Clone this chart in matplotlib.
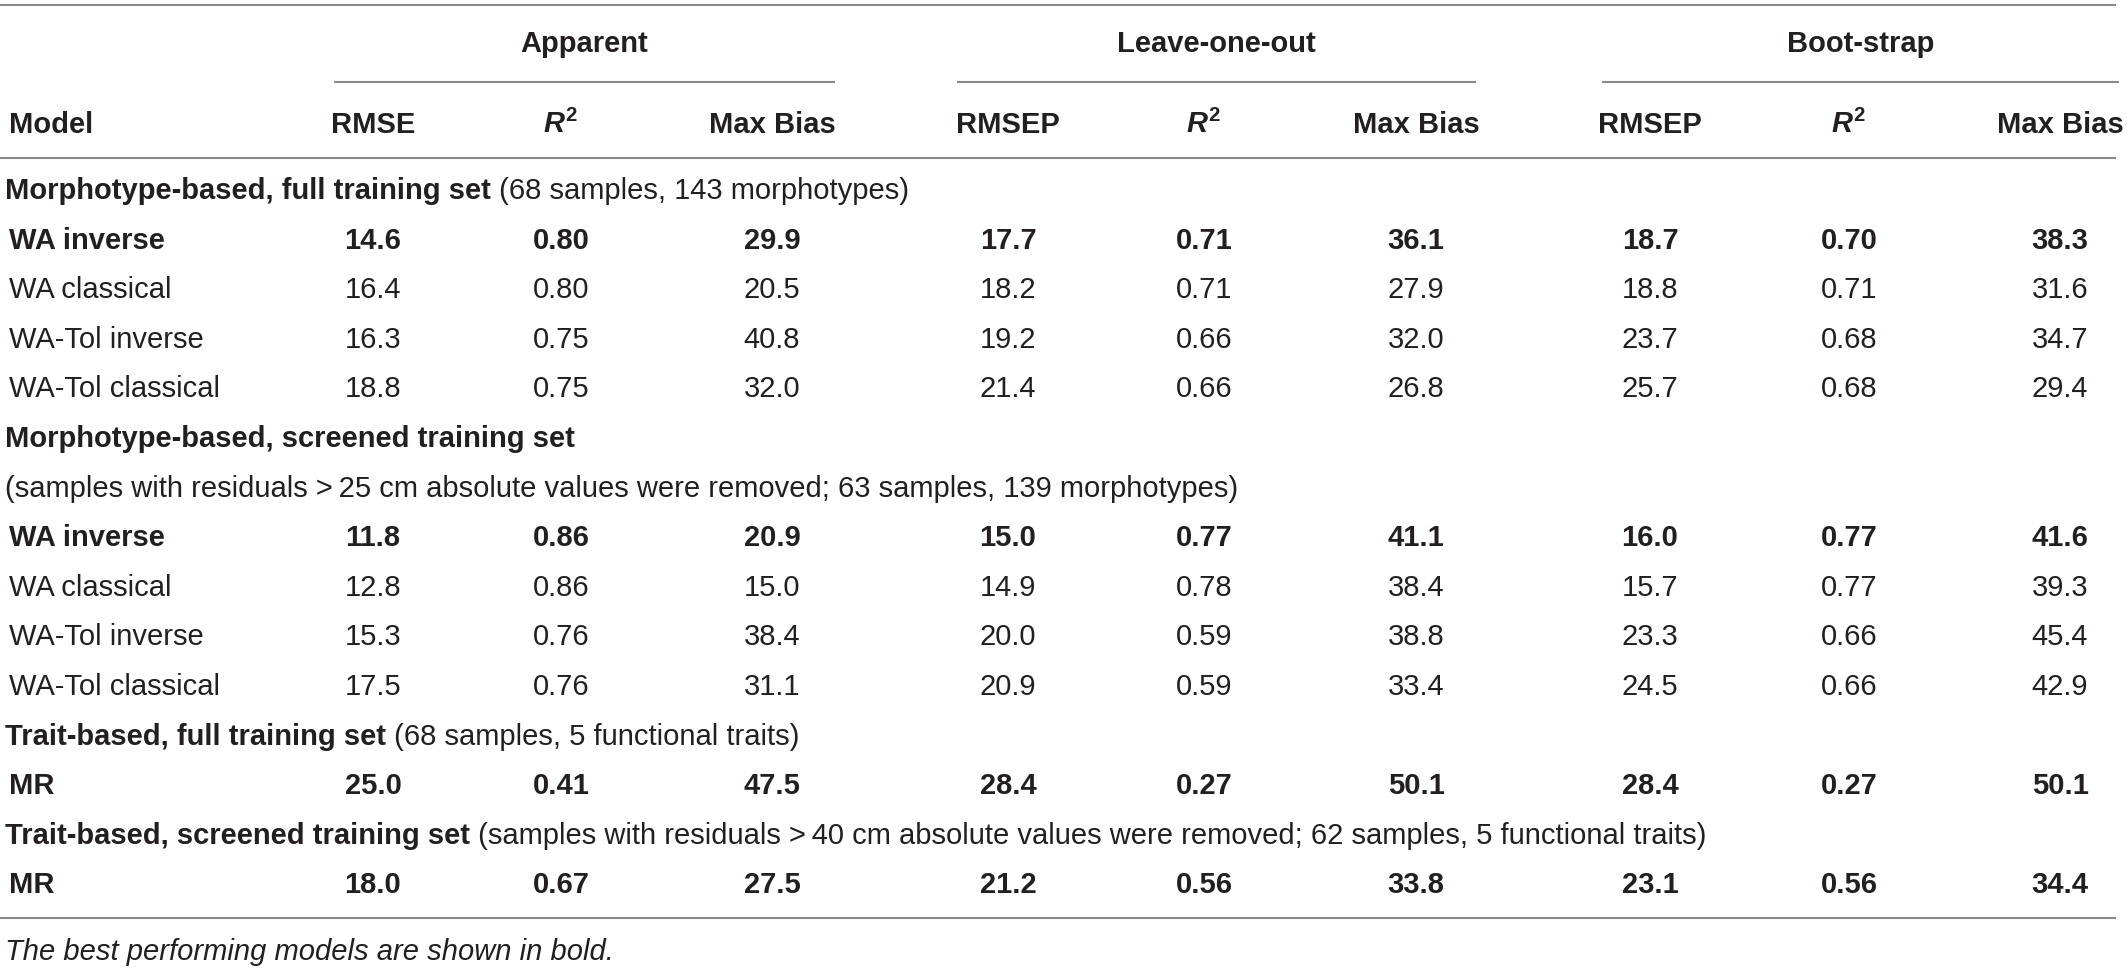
import matplotlib
matplotlib.use("Agg")
import matplotlib.pyplot as plt

plt.rcParams['font.family'] = ['Liberation Sans', 'DejaVu Sans']
plt.rcParams['mathtext.fontset'] = 'custom'
plt.rcParams['mathtext.rm'] = 'Liberation Sans:bold'
plt.rcParams['mathtext.it'] = 'Liberation Sans:italic:bold'
plt.rcParams['mathtext.bf'] = 'Liberation Sans:bold'

# table content
groups = ["Apparent", "Leave-one-out", "Boot-strap"]
metrics = ["RMSE", "$R^2$", "Max Bias",
           "RMSEP", "$R^2$", "Max Bias",
           "RMSEP", "$R^2$", "Max Bias"]

morph_models = ["WA inverse", "WA classical", "WA-Tol inverse", "WA-Tol classical"]
morph_full = [[14.6, 0.80, 29.9, 17.7, 0.71, 36.1, 18.7, 0.70, 38.3],
              [16.4, 0.80, 20.5, 18.2, 0.71, 27.9, 18.8, 0.71, 31.6],
              [16.3, 0.75, 40.8, 19.2, 0.66, 32.0, 23.7, 0.68, 34.7],
              [18.8, 0.75, 32.0, 21.4, 0.66, 26.8, 25.7, 0.68, 29.4]]
morph_screened = [[11.8, 0.86, 20.9, 15.0, 0.77, 41.1, 16.0, 0.77, 41.6],
                  [12.8, 0.86, 15.0, 14.9, 0.78, 38.4, 15.7, 0.77, 39.3],
                  [15.3, 0.76, 38.4, 20.0, 0.59, 38.8, 23.3, 0.66, 45.4],
                  [17.5, 0.76, 31.1, 20.9, 0.59, 33.4, 24.5, 0.66, 42.9]]
trait_models = ["MR"]
trait_full = [[25.0, 0.41, 47.5, 28.4, 0.27, 50.1, 28.4, 0.27, 50.1]]
trait_screened = [[18.0, 0.67, 27.5, 21.2, 0.56, 33.8, 23.1, 0.56, 34.4]]

sections = [
    ("Morphotype-based, full training set", " (68 samples, 143 morphotypes)", None,
     morph_models, morph_full),
    ("Morphotype-based, screened training set", "",
     "(samples with residuals >\u200925 cm absolute values were removed; 63 samples, 139 morphotypes)",
     morph_models, morph_screened),
    ("Trait-based, full training set", " (68 samples, 5 functional traits)", None,
     trait_models, trait_full),
    ("Trait-based, screened training set",
     " (samples with residuals >\u200940 cm absolute values were removed; 62 samples, 5 functional traits)",
     None, trait_models, trait_screened),
]
footnote = "The best performing models are shown in bold."

# layout (pixels, y = text baseline)
W, H = 2128, 968
col_x = [373, 561, 772, 1008, 1204, 1416, 1650, 1849, 2060]
span = [(334, 835), (957, 1476), (1602, 2119)]
row0, step = 199, 49.6
fs = 21
ink = "#231f20"
rule = "#8a8a8a"

fig = plt.figure(figsize=(W / 100, H / 100), dpi=100)
ax = fig.add_axes([0, 0, 1, 1])
ax.set_xlim(0, W)
ax.set_ylim(H, 0)
ax.axis("off")

# rules
for y in [5, 158, 918]:
    ax.plot([0, 2116], [y, y], color=rule, lw=1.5, solid_capstyle="butt")
for (x0, x1), g in zip(span, groups):
    ax.plot([x0, x1], [82, 82], color=rule, lw=1.5, solid_capstyle="butt")
    ax.text((x0 + x1) / 2, 52, g, ha="center", va="baseline", fontsize=fs,
            fontweight="bold", color=ink)

ax.text(9, 133, "Model", ha="left", va="baseline", fontsize=fs,
        fontweight="bold", color=ink)
for x, m in zip(col_x, metrics):
    ax.text(x, 133, m, ha="center", va="baseline", fontsize=fs,
            fontweight="bold", color=ink)

k = 0
for title, note, extra, models, vals in sections:
    y = row0 + step * k
    t = ax.text(5, y, title, ha="left", va="baseline", fontsize=fs,
                fontweight="bold", color=ink)
    if note:
        ax.annotate(note, xycoords=t, xy=(1, 0), va="bottom", ha="left",
                    fontsize=fs, color=ink)
    k += 1
    if extra:
        ax.text(5, row0 + step * k, extra, ha="left", va="baseline",
                fontsize=fs, color=ink)
        k += 1
    for i, (name, row) in enumerate(zip(models, vals)):
        y = row0 + step * k
        w = "bold" if i == 0 else "normal"
        ax.text(9, y, name, ha="left", va="baseline", fontsize=fs,
                fontweight=w, color=ink)
        for j, (x, v) in enumerate(zip(col_x, row)):
            s = f"{v:.2f}" if j % 3 == 1 else f"{v:.1f}"
            ax.text(x, y, s, ha="center", va="baseline", fontsize=fs,
                    fontweight=w, color=ink)
        k += 1

ax.text(5, 960, footnote, ha="left", va="baseline", fontsize=fs,
        fontstyle="italic", color=ink)

fig.savefig("out.png", dpi=100)
